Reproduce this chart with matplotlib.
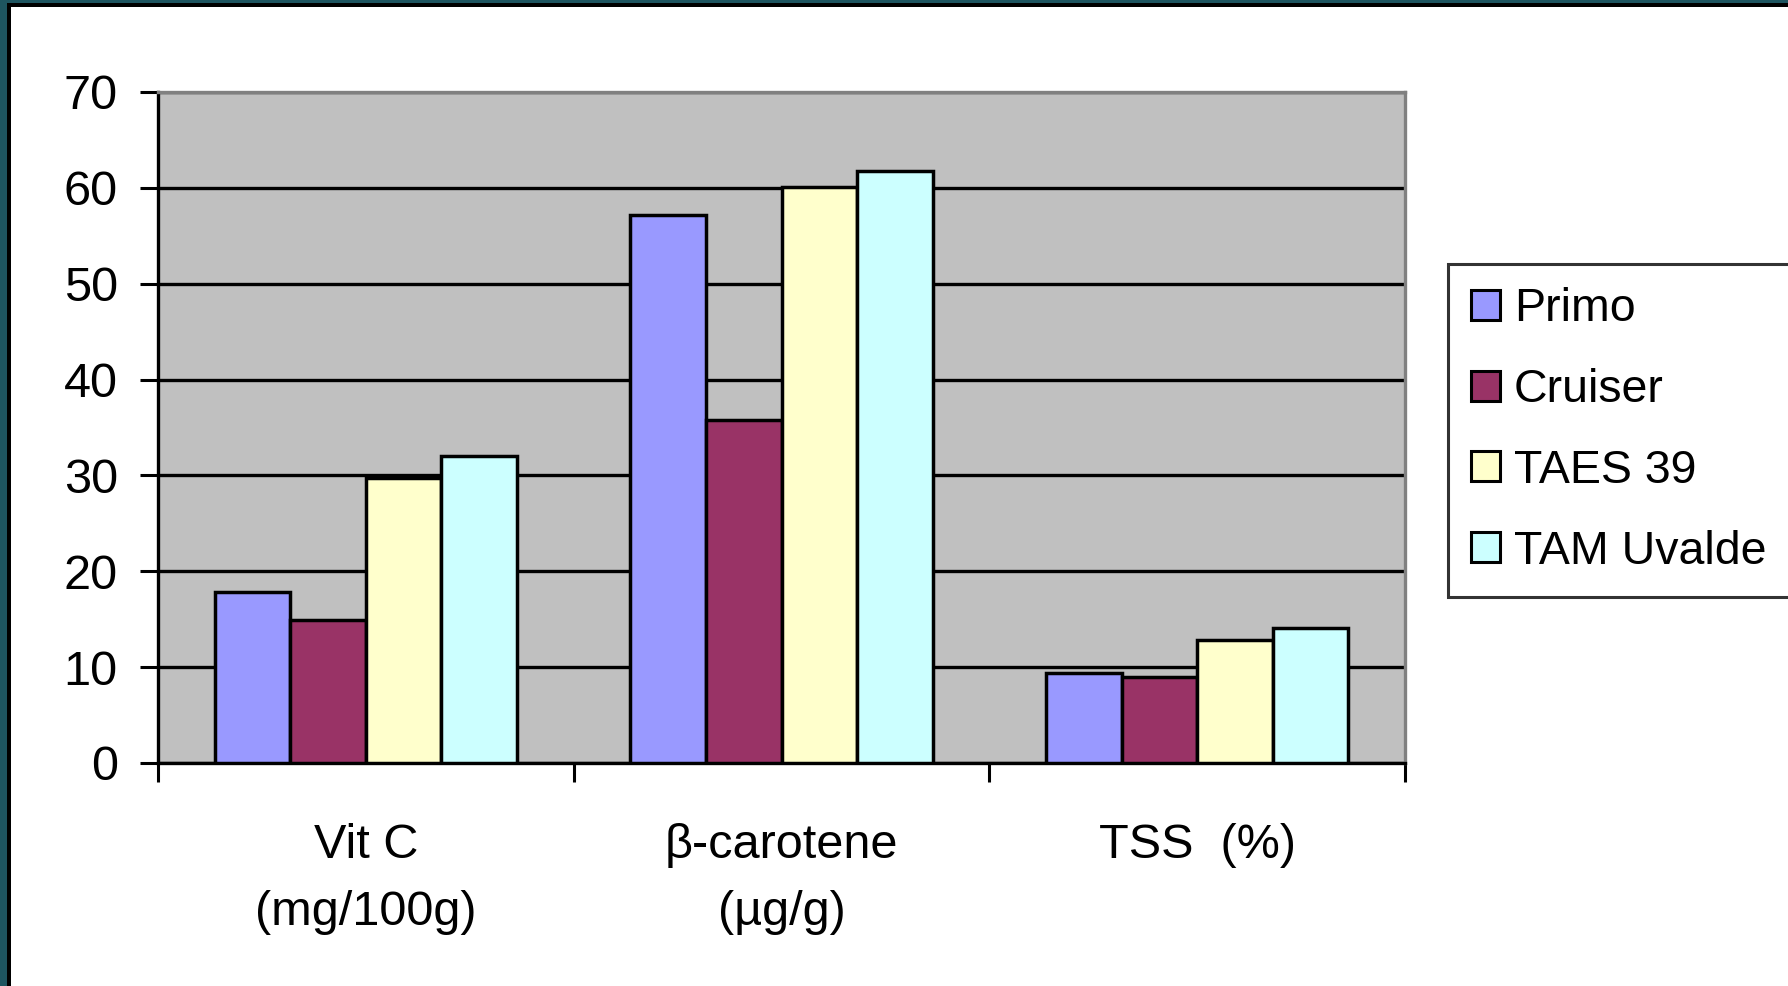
import numpy as np
import matplotlib.pyplot as plt
from matplotlib.patches import Rectangle, Patch

plt.rcParams['font.family'] = ['Liberation Sans', 'DejaVu Sans']

# data
categories = ['Vit C\n(mg/100g)', 'β-carotene\n(µg/g)', 'TSS  (%)']
varieties = ['Primo', 'Cruiser', 'TAES 39', 'TAM Uvalde']
primo = [17.8, 57.2, 9.4]
cruiser = [14.9, 35.8, 9.0]
taes39 = [29.7, 60.1, 12.8]
tam_uvalde = [32.0, 61.8, 14.1]
colors = ['#9999FF', '#993366', '#FFFFCC', '#CCFFFF']

series = [primo, cruiser, taes39, tam_uvalde]

fig = plt.figure(figsize=(17.88, 9.86), dpi=100)
fig.patch.set_facecolor('white')

# frame on left and top edges
fig.patches.append(Rectangle((0, 0), 7 / 1788, 1, transform=fig.transFigure,
                             facecolor='#1e5560', edgecolor='none', zorder=0))
fig.patches.append(Rectangle((7 / 1788, 0), 4 / 1788, 1 - 3 / 986, transform=fig.transFigure,
                             facecolor='black', edgecolor='none', zorder=0))
fig.patches.append(Rectangle((0, 1 - 3 / 986), 1, 3 / 986, transform=fig.transFigure,
                             facecolor='#1e5560', edgecolor='none', zorder=0))
fig.patches.append(Rectangle((7 / 1788, 1 - 7 / 986), 1, 4 / 986, transform=fig.transFigure,
                             facecolor='black', edgecolor='none', zorder=0))

ax = fig.add_axes([0.0884, 0.2262, 0.6974, 0.6805])
ax.set_facecolor('#C0C0C0')

x = np.arange(len(categories))
w = 1 / 5.5
for i, (vals, c) in enumerate(zip(series, colors)):
    ax.bar(x + (i - 1.5) * w, vals, width=w, color=c, edgecolor='black',
           linewidth=2.5, label=varieties[i], zorder=3)

ax.set_xlim(-0.5, 2.5)
ax.set_ylim(0, 70)
ax.set_yticks(range(0, 71, 10))
ax.yaxis.grid(True, color='black', linewidth=2.4)
ax.set_axisbelow(True)

ax.set_xticks(x)
ax.set_xticklabels(categories, fontsize=35, linespacing=1.65)
ax.set_xticks([-0.5, 0.5, 1.5, 2.5], minor=True)
ax.tick_params(axis='x', which='major', length=0, pad=43)
ax.tick_params(axis='x', which='minor', length=14, width=2.2, direction='out')
ax.tick_params(axis='y', length=13, width=2.2, direction='out', labelsize=35, pad=16)

for s in ['left', 'bottom']:
    ax.spines[s].set_color('black')
    ax.spines[s].set_linewidth(2.4)
for s in ['top', 'right']:
    ax.spines[s].set_color('#808080')
    ax.spines[s].set_linewidth(2.4)

handles = [Patch(facecolor=c, edgecolor='black', linewidth=2.2) for c in colors]
leg = fig.legend(handles, varieties, loc='upper left',
                 bbox_to_anchor=(1448 / 1788, 1 - 264 / 986),
                 fontsize=33.5, frameon=True, fancybox=False, shadow=False,
                 handlelength=0.62, handleheight=0.62, handletextpad=0.3,
                 labelspacing=0.79, borderpad=0.5, borderaxespad=0)
leg.get_frame().set_edgecolor('black')
leg.get_frame().set_linewidth(2.2)

fig.savefig('out.png', dpi=100, facecolor='white')
